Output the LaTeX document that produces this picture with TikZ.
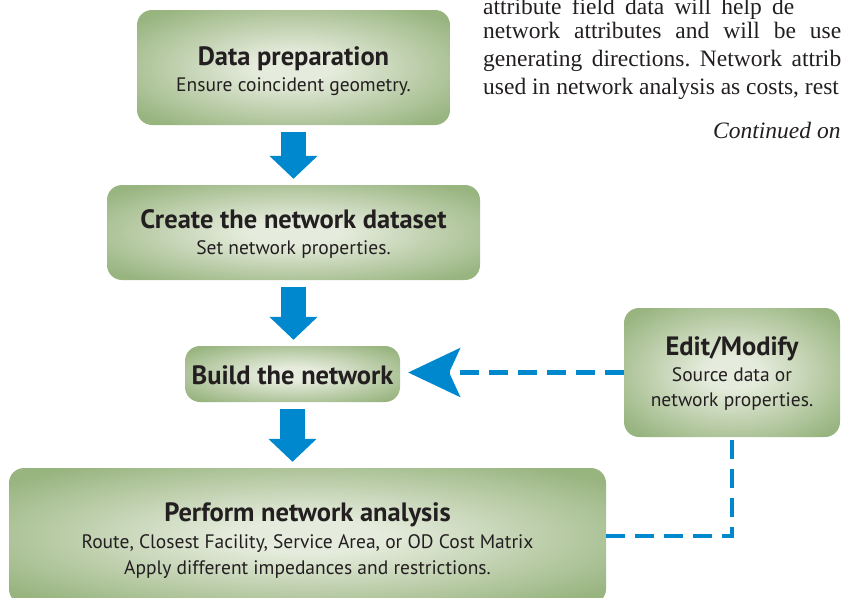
\documentclass[tikz,border=0pt]{standalone}
\usepackage{fontspec}
\setmainfont{PT Sans}
\newfontfamily\bodyserif{Liberation Serif}
\usetikzlibrary{arrows.meta}
\definecolor{boxin}{RGB}{230,236,221}
\definecolor{boxout}{RGB}{152,180,127}
\definecolor{arrblue}{RGB}{0,136,206}
\definecolor{bodytext}{RGB}{35,31,32}
\pgfdeclareradialshading{boxshade}{\pgfpoint{0bp}{0bp}}{color(0bp)=(boxin); color(6bp)=(boxin); color(32bp)=(boxout); color(50bp)=(boxout)}
\newcommand{\ttl}{\fontsize{26.5}{25}\selectfont\bfseries}
\newcommand{\sbt}{\fontsize{19.5}{25.5}\selectfont}
\tikzset{
  box/.style={rounded corners=15pt, shading=boxshade, inner sep=0pt},
  boxtext/.style={align=center, inner sep=0pt, text=bodytext, font=\sbt},
  blockarr/.style={draw=arrblue, line width=25pt, -{Triangle[length=23pt,width=47pt]}, shorten <=7pt, shorten >=6pt},
  dashln/.style={draw=arrblue, line width=4.5pt, dash pattern=on 19pt off 10pt},
  dasharr/.style={dashln, -{Stealth[length=52pt,width=49pt,inset=11pt]}, shorten >=8pt},
  bodyline/.style={anchor=base west, inner sep=0pt, font=\bodyserif\fontsize{23.5}{28}\selectfont, text=bodytext}
}
\begin{document}
\begin{tikzpicture}[x=1pt,y=1pt]
\useasboundingbox (0,0) rectangle (843,-597);
\clip (0,0) rectangle (843,-597);
% boxes
\node[box, minimum width=313pt, minimum height=115pt] (dp) at (293.5,-67.5) {};
\node[boxtext] (dpt) at ([yshift=-3.5pt]dp.center)
  {{\ttl Data preparation}\\ Ensure coincident geometry.};
\node[box, minimum width=373pt, minimum height=95pt] (cn) at (293.5,-232.5) {};
\node[boxtext] (cnt) at ([yshift=-1.5pt]cn.center)
  {{\ttl Create the network dataset}\\ Set network properties.};
\node[box, minimum width=215pt, minimum height=56pt] (bn) at (292.5,-374) {};
\node[boxtext] (bnt) at ([yshift=-1pt]bn.center) {{\ttl Build the network}};
\node[box, minimum width=216pt, minimum height=129pt] (em) at (732,-372.5) {};
\node[boxtext] (emt) at ([yshift=-1.5pt]em.center)
  {{\ttl Edit/Modify}\\ Source data or\\ network properties.};
\node[box, minimum width=597pt, minimum height=136pt] (pa) at (307.5,-536) {};
\node[boxtext, font=\fontsize{19.5}{26.5}\selectfont] (pat) at ([yshift=-5pt]pa.center)
  {{\ttl Perform network analysis}\\ Route, Closest Facility, Service Area, or OD Cost Matrix\\ Apply different impedances and restrictions.};
% block arrows
\draw[blockarr] (dp.south) -- (dp.south |- cn.north);
\draw[blockarr] (cn.south) -- (cn.south |- bn.north);
\draw[blockarr] (bn.south) -- (bn.south |- pa.north);
% dashed connectors
\draw[dasharr] (em.west) -- (em.west -| bn.east);
\draw[dashln] (pa.east) -| (em.south);
% body text
\node[bodyline] (t1) at (483,-14) {\hbox to 311pt{attribute\hfill field\hfill data\hfill will\hfill help\hfill de}};
\node[bodyline] (t2) at (483,-38) {\hbox to 358pt{network\hfill attributes\hfill and\hfill will\hfill be\hfill use}};
\node[bodyline] (t3) at (483,-66.5) {\hbox to 358pt{generating\hfill directions.\hfill Network\hfill attrib}};
\node[bodyline] (t4) at (483,-94.5) {used in network analysis as costs, rest};
\node[bodyline, font=\bodyserif\itshape\fontsize{23.5}{28}\selectfont] (tc) at (713,-138) {Continued on};
\end{tikzpicture}
\end{document}
